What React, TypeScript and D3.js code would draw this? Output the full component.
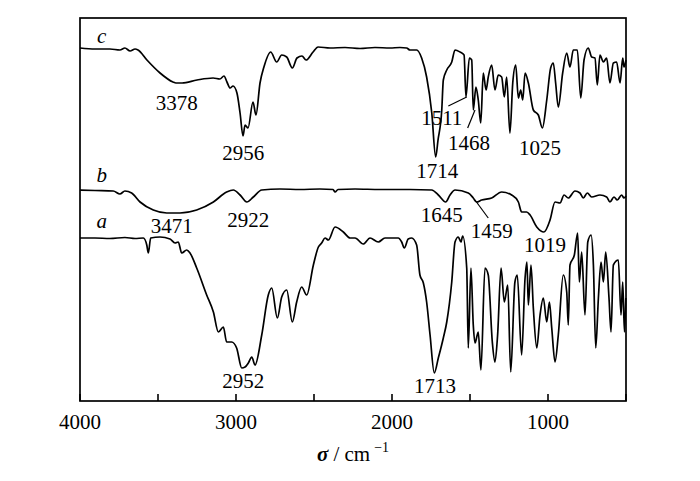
import React from "react";
import * as d3 from "d3";

// FTIR spectra, [wavenumber cm-1, transmittance a.u.]
const spectrumC: [number, number][] = [
  [4000, 353], [3904, 352], [3808, 352], [3744, 351], [3712, 353], [3679, 350], [3647, 352], [3628, 351],
  [3571, 341], [3487, 328], [3404, 319], [3385, 318], [3346, 318], [3250, 321], [3147, 323], [3103, 322],
  [3077, 325], [3058, 319], [3038, 313], [3019, 315], [2994, 308], [2974, 288], [2955, 265], [2942, 276],
  [2923, 273], [2891, 299], [2872, 286], [2846, 318], [2821, 334], [2778, 349], [2739, 339], [2707, 346],
  [2675, 344], [2639, 333], [2609, 343], [2577, 345], [2551, 341], [2506, 349], [2474, 354], [2397, 353],
  [2301, 353.5], [2205, 352.5], [2109, 353.5], [2013, 353], [1949, 353.5], [1906, 353], [1885, 351],
  [1842, 351], [1810, 343], [1778, 324], [1745, 288], [1720, 244], [1705, 261], [1681, 291], [1671, 321],
  [1649, 331], [1617, 339], [1596, 351], [1564, 349], [1538, 346], [1526, 304], [1504, 343], [1489, 341],
  [1479, 291], [1462, 314], [1447, 301], [1431, 278], [1415, 328], [1397, 311], [1383, 324], [1361, 336],
  [1340, 311], [1319, 326], [1297, 324], [1280, 304], [1265, 324], [1244, 268], [1226, 318], [1207, 336],
  [1190, 303], [1175, 311], [1162, 301], [1147, 328], [1126, 318], [1094, 291], [1062, 286], [1036, 273],
  [1008, 301], [983, 333], [966, 338], [951, 318], [934, 294], [906, 328], [880, 348], [859, 334],
  [838, 351], [812, 351], [790, 303], [769, 341], [742, 353], [720, 344], [699, 343], [684, 316],
  [667, 346], [645, 339], [624, 343], [603, 318], [581, 338], [560, 339], [538, 318], [521, 343],
  [513, 334], [500, 341],
];

const spectrumB: [number, number][] = [
  [4000, 211], [3904, 210.5], [3787, 210], [3744, 207], [3712, 210], [3669, 208], [3615, 199], [3530, 191],
  [3444, 188], [3359, 188], [3252, 191], [3145, 199], [3060, 209], [3017, 211], [2974, 206], [2931, 199],
  [2889, 204], [2835, 211], [2718, 212], [2590, 211.5], [2462, 212], [2378, 211.5], [2365, 209],
  [2346, 211.5], [2237, 212], [2077, 211.5], [1885, 211.5], [1745, 211], [1703, 206], [1656, 199],
  [1628, 206], [1596, 211], [1511, 208], [1479, 203], [1458, 199], [1425, 201], [1361, 203], [1297, 209],
  [1233, 206], [1190, 199], [1169, 189], [1137, 189], [1115, 186], [1072, 174], [1026, 169], [987, 181],
  [955, 199], [923, 198], [897, 206], [870, 203], [827, 210], [795, 208], [774, 203], [748, 208],
  [720, 204], [667, 206], [624, 204], [603, 199], [577, 204], [556, 201], [528, 206], [513, 203],
  [500, 205],
];

const spectrumA: [number, number][] = [
  [4000, 163], [3904, 163], [3808, 162.5], [3712, 163.5], [3647, 162.5], [3594, 163], [3572, 156],
  [3562, 148], [3547, 163], [3487, 164], [3423, 162], [3391, 158], [3370, 159], [3348, 148], [3316, 151],
  [3295, 148], [3252, 133], [3188, 106], [3145, 89], [3113, 69], [3081, 74], [3060, 59], [3028, 59],
  [2996, 53], [2963, 33], [2942, 34], [2921, 38], [2899, 44], [2878, 36], [2835, 66], [2793, 106],
  [2771, 113], [2735, 83], [2707, 104], [2675, 111], [2639, 79], [2611, 99], [2579, 114], [2547, 106],
  [2504, 136], [2472, 154], [2451, 158], [2429, 163], [2408, 161], [2365, 174], [2312, 169], [2269, 163],
  [2237, 163], [2184, 157], [2141, 163], [2088, 159], [2045, 163], [2002, 163], [1960, 163], [1938, 159],
  [1921, 153], [1896, 162], [1874, 163], [1842, 156], [1821, 126], [1799, 118], [1778, 99], [1756, 66],
  [1729, 28], [1703, 43], [1671, 63], [1649, 79], [1617, 119], [1596, 159], [1575, 164], [1558, 159],
  [1547, 165], [1521, 133], [1511, 53], [1494, 133], [1479, 76], [1468, 58], [1447, 69], [1430, 31],
  [1404, 133], [1383, 126], [1357, 59], [1340, 39], [1323, 66], [1301, 133], [1280, 99], [1258, 116],
  [1239, 29], [1212, 119], [1197, 126], [1169, 46], [1147, 123], [1135, 139], [1126, 96], [1109, 136],
  [1094, 93], [1072, 53], [1051, 86], [1030, 103], [1008, 79], [991, 99], [976, 73], [955, 39],
  [934, 66], [902, 126], [880, 109], [870, 76], [859, 136], [831, 146], [810, 168], [799, 119],
  [784, 149], [763, 86], [745, 159], [724, 166], [709, 136], [694, 53], [677, 103], [660, 139],
  [645, 119], [630, 149], [609, 103], [596, 69], [581, 136], [549, 141], [532, 86], [521, 119],
  [510, 69], [501, 103],
];

const spectra = [spectrumA, spectrumB, spectrumC];

// curve names: [name, wavenumber, transmittance] of text baseline
const curveNames: [string, number, number][] = [
  ["c", 3861, 358],
  ["b", 3861, 219],
  ["a", 3861, 173],
];

// peak labels: [text, wavenumber, transmittance] of text baseline centre
const peakLabels: [string, number, number][] = [
  ["3378", 3380, 291], ["2956", 2953, 241], ["1714", 1710, 223], ["1511", 1681, 276],
  ["1468", 1506, 251], ["1025", 1051, 246],
  ["3471", 3412, 168], ["2922", 2921, 174], ["1645", 1681, 179], ["1459", 1361, 163],
  ["1019", 1019, 149],
  ["2952", 2953, 13], ["1713", 1724, 8],
];

// leader lines [w1, t1, w2, t2]
const leaders: [number, number, number, number][] = [
  [1639, 295, 1521, 304],
  [1515, 273, 1468, 291],
  [1468, 201, 1383, 183],
];

const xTicks = [4000, 3500, 3000, 2500, 2000, 1500, 1000, 500];
const xTickLabels = [4000, 3000, 2000, 1000];

const W = 700;
const H = 481;
const left = 80;
const right = 626;
const top = 18;
const bottom = 401;

export default function App() {
  const x = d3.scaleLinear().domain([4000, 500]).range([left, right]);
  const y = d3.scaleLinear().domain([0, 383]).range([bottom, top]);
  const line = d3
    .line<[number, number]>()
    .x((d) => x(d[0]))
    .y((d) => y(d[1]))
    .curve(d3.curveMonotoneX);

  const font = "'Liberation Serif', 'Times New Roman', serif";

  return (
    <svg
      width={W}
      height={H}
      style={{ position: "absolute", left: 0, top: 0, background: "#fff" }}
      fontFamily={font}
    >
      {spectra.map((s, i) => (
        <path key={i} d={line(s) || ""} fill="none" stroke="#000" strokeWidth={1.7} strokeLinejoin="round" />
      ))}

      {leaders.map((l, i) => (
        <line key={i} x1={x(l[0])} y1={y(l[1])} x2={x(l[2])} y2={y(l[3])} stroke="#000" strokeWidth={1.2} />
      ))}

      <rect x={left} y={top} width={right - left} height={bottom - top} fill="none" stroke="#000" strokeWidth={1.7} />

      {xTicks.map((t) => (
        <line key={t} x1={x(t)} x2={x(t)} y1={bottom} y2={bottom - 7} stroke="#000" strokeWidth={1.6} />
      ))}
      {xTickLabels.map((t) => (
        <text key={t} x={x(t)} y={429} textAnchor="middle" fontSize={21}>
          {t}
        </text>
      ))}

      {curveNames.map(([n, w, t]) => (
        <text key={n} x={x(w)} y={y(t)} textAnchor="middle" fontSize={21} fontStyle="italic">
          {n}
        </text>
      ))}

      {peakLabels.map(([s, w, t]) => (
        <text key={s} x={x(w)} y={y(t)} textAnchor="middle" fontSize={21}>
          {s}
        </text>
      ))}

      <text x={(left + right) / 2} y={461} textAnchor="middle" fontSize={21}>
        <tspan fontWeight="bold" fontStyle="italic">σ</tspan>
        <tspan> / cm</tspan>
        <tspan fontSize={14} dy={-9} dx={4}>−1</tspan>
      </text>
    </svg>
  );
}
